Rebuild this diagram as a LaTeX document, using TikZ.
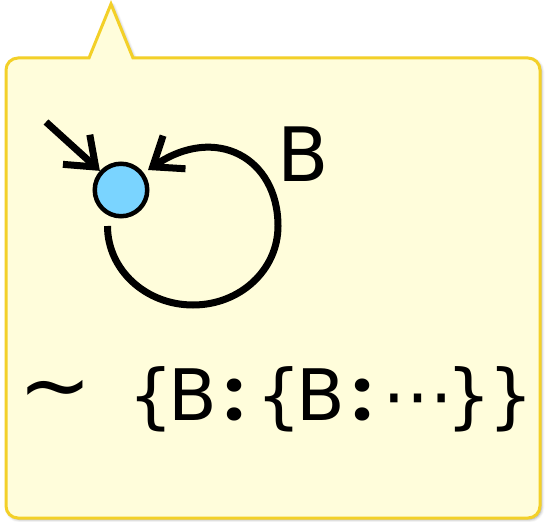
\documentclass[tikz,border=0pt]{standalone}
\usepackage{fontspec}
\newfontfamily\dvs{DejaVu Sans}
\newfontfamily\pop{Poppins}
\usetikzlibrary{arrows.meta,shadows.blur,calc}
\definecolor{boxfill}{RGB}{255,253,219}
\definecolor{boxborder}{RGB}{243,208,40}
\definecolor{stateblue}{RGB}{122,212,255}
\newcommand\at[2]{\rlap{\kern#1pt#2}}
\newcommand\dcol{{\pop\bfseries :}}
\begin{document}
\begin{tikzpicture}[x=1pt,y=-1pt,
  conn/.style={line width=7pt,-{Straight Barb[length=26pt,width=40pt]}},
  state/.style={circle,draw,line width=4.5pt,fill=stateblue,minimum size=52.5pt,inner sep=0pt},
  lbl/.style={inner sep=0pt,anchor=base west,font=\dvs}]
\useasboundingbox (0,0) rectangle (545,521);
\draw[line width=3pt,draw=boxborder,fill=boxfill,
  blur shadow={shadow xshift=1.5pt,shadow yshift=-1.5pt,shadow blur radius=3pt}]
  (111,4) -- (133,58) [rounded corners=12pt] -- (540,58) -- (540,518) -- (6,518) -- (6,58) [sharp corners] -- (89,58) -- cycle;
\node[state] (q) at (121,190) {};
\coordinate (in0) at (46,122);
\draw[conn] (in0) -- (q);
\coordinate (ls) at ($(q)+(-13.5,36)$);
\coordinate (le) at ($(q)+(27,-20)$);
\draw[conn] (ls) .. controls (107.5,270) and (146,305) .. (193,305)
  .. controls (240,305) and (278,270) .. (278,226)
  .. controls (278,158) and (216,124) .. (le);
\node[lbl,font=\dvs\fontsize{75}{75}\selectfont] (b) at (277.5,182) {B};
\node[lbl,font=\dvs\fontsize{88}{88}\selectfont] (sim) at (18,415) {∼};
\node[lbl,font=\dvs\fontsize{71}{71}\selectfont] (expr) at (128,420)
  {\at{0}{\{}\at{40}{B}\at{96}{\dcol}\at{128}{\{}\at{168}{B}\at{224}{\dcol}\at{254}{⋯}\at{318}{\}}\at{360}{\}}};
\end{tikzpicture}
\end{document}
